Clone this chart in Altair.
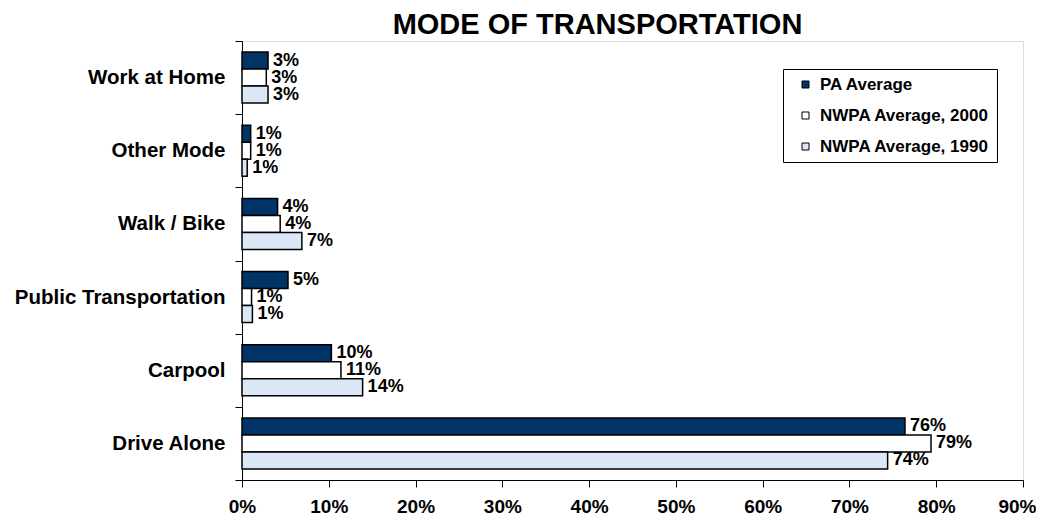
import altair as alt
import pandas as pd

categories = ["Work at Home", "Other Mode", "Walk / Bike", "Public Transportation", "Carpool", "Drive Alone"]
series = ["PA Average", "NWPA Average, 2000", "NWPA Average, 1990"]
pa_avg = [3.0, 1.0, 4.1, 5.3, 10.3, 76.4]
nwpa_2000 = [2.8, 1.0, 4.4, 1.1, 11.4, 79.4]
nwpa_1990 = [3.0, 0.6, 6.9, 1.2, 13.9, 74.4]
x_ticks = [0, 10, 20, 30, 40, 50, 60, 70, 80, 90]
colors = ["#003366", "#FFFFFF", "#DAE7F7"]

rows = []
for s, vals in zip(series, [pa_avg, nwpa_2000, nwpa_1990]):
    for c, v in zip(categories, vals):
        rows.append({"Mode": c, "Series": s, "Value": v, "Label": f"{round(v):.0f}%"})
df = pd.DataFrame(rows)

FONT = "Liberation Sans"

y_enc = alt.Y(
    "Mode:N", sort=categories, title=None,
    scale=alt.Scale(paddingInner=0, paddingOuter=0),
    axis=alt.Axis(tickBand="extent", labelFontSize=20.5, labelFont=FONT, labelFontWeight="bold",
                  labelColor="black", tickSize=7, tickColor="black", domainColor="black",
                  labelPadding=10, labelLimit=400, grid=False),
)
yoff = alt.YOffset("Series:N", sort=series, scale=alt.Scale(paddingInner=0, paddingOuter=0.65))
x_enc = alt.X(
    "Value:Q", title=None,
    scale=alt.Scale(domain=[0, 90], nice=False),
    axis=alt.Axis(values=x_ticks, labelExpr="datum.value + '%'", labelFontSize=19, labelFont=FONT,
                  labelFontWeight="bold", labelColor="black", tickSize=7, tickColor="black",
                  domainColor="black", labelPadding=10, grid=False, labelFlush=False,
                  labelOffset={"condition": {"test": "datum.value == 90", "value": -6}, "value": 0}),
)

bars = alt.Chart(df).mark_bar(stroke="black", strokeWidth=1.5).encode(
    x=x_enc, y=y_enc, yOffset=yoff,
    fill=alt.Fill("Series:N", sort=series, scale=alt.Scale(domain=series, range=colors),
                  legend=alt.Legend(orient="none", legendX=541, legendY=28, title=None,
                                    labelFont=FONT, labelFontSize=17, labelFontWeight="bold",
                                    labelColor="black", labelLimit=400, symbolType="square",
                                    symbolSize=49, symbolStrokeColor="black", symbolStrokeWidth=1,
                                    strokeColor="black", fillColor="white", padding=7,
                                    rowPadding=13, labelOffset=6, symbolOffset=7)),
)

labels = alt.Chart(df).mark_text(align="left", baseline="middle", dx=5, font=FONT,
                                 fontWeight="bold", fontSize=18, color="black").encode(
    x=x_enc, y=y_enc, yOffset=yoff, text="Label:N",
)

chart = alt.layer(bars, labels).properties(
    width=781, height=439,
    title=alt.Title("MODE OF TRANSPORTATION", fontSize=29, font=FONT, fontWeight="bold",
                    color="black", dx=-35, dy=11, offset=2, anchor="middle"),
    autosize=alt.AutoSizeParams(type="none"),
    padding={"left": 234, "top": 33, "right": 13, "bottom": 36},
).configure_view(stroke="black", strokeWidth=1).configure(background="white")

chart.save("out.html", embed_options={"renderer": "svg", "actions": False})
